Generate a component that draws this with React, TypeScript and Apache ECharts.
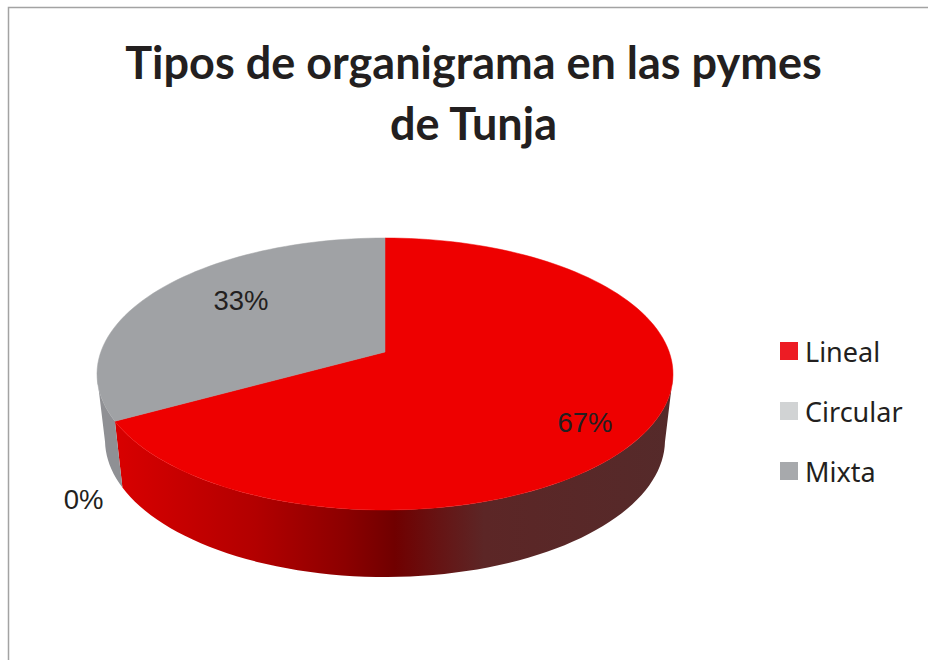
import React, { useEffect, useRef } from "react";
import * as echarts from "echarts";

const categories = ["Lineal", "Circular", "Mixta"];
const percentages = [67, 0, 33];
const titleLines = ["Tipos de organigrama en las pymes", "de Tunja"];

const legendColors = ["#ed1c24", "#d1d3d4", "#a7a9ac"];
const topColors = ["#ee0000", "#d1d3d4", "#a0a2a5"];
const labelAnchors = [
  [585, 422],
  [83.5, 499],
  [241, 300],
];
const INK = "#231f20";

// Perspective projection of the pie's unit disc onto the page.
const CX = 385;
const K = -0.1618;
const A = 75.5;
const B = 352;
const S = 284.2;
const MID_Y = 374;
const DEPTH_Y = 66;
const BOTTOM_SCALE_X = 280 / 288;
const BOTTOM_SCALE_Y = 137 / 136;
// Clockwise angle from the top at which the side wall becomes visible.
const WALL_FROM = 100;

function topPoint(u: number, v: number) {
  const w = 1 + K * v;
  return [CX + (S * u) / w, (A * v + B) / w];
}
function rimPoints(a0: number, a1: number, bottom: boolean) {
  const n = Math.max(2, Math.ceil((a1 - a0) / 2));
  const pts: number[][] = [];
  for (let i = 0; i <= n; i++) {
    const a = ((a0 + ((a1 - a0) * i) / n) * Math.PI) / 180;
    const [x, y] = topPoint(Math.sin(a), -Math.cos(a));
    pts.push(
      bottom
        ? [CX + (x - CX) * BOTTOM_SCALE_X, MID_Y + DEPTH_Y + (y - MID_Y) * BOTTOM_SCALE_Y]
        : [x, y]
    );
  }
  return pts;
}

const wallFills: any[] = [
  {
    type: "linear",
    x: 117,
    y: 0,
    x2: 673,
    y2: 0,
    global: true,
    colorStops: [
      { offset: 0, color: "#d80000" },
      { offset: 0.25, color: "#b20000" },
      { offset: 0.41, color: "#8c0000" },
      { offset: 0.5, color: "#700000" },
      { offset: 0.58, color: "#661414" },
      { offset: 0.66, color: "#5c2626" },
      { offset: 1, color: "#552a2a" },
    ],
  },
  "#bfc1c4",
  "#8f9094",
];

export default function App() {
  const ref = useRef<HTMLDivElement>(null);
  useEffect(() => {
    const chart = echarts.init(ref.current!, undefined, { renderer: "svg" });
    const total = percentages.reduce((a, b) => a + b, 0);
    const series = categories.map((name, idx) => {
      const before = percentages.slice(0, idx).reduce((a, b) => a + b, 0);
      return {
        type: "custom",
        name,
        coordinateSystem: "none",
        silent: true,
        data: [percentages[idx]],
        itemStyle: { color: legendColors[idx] },
        renderItem: (_p: any, api: any) => {
          const value = api.value(0);
          const a0 = (before / total) * 360;
          const a1 = ((before + value) / total) * 360;
          const children: any[] = [];
          if (value > 0) {
            const w0 = Math.max(a0, WALL_FROM);
            const w1 = Math.min(a1, 360 - WALL_FROM);
            if (w1 > w0) {
              const wallTop = rimPoints(w0, w1, false);
              const wallBot = rimPoints(w0, w1, true).reverse();
              children.push({
                type: "polygon",
                z2: 1,
                shape: { points: [...wallTop, ...wallBot] },
                style: { fill: wallFills[idx] },
              });
            }
            children.push({
              type: "polygon",
              z2: 2,
              shape: { points: [topPoint(0, 0), ...rimPoints(a0, a1, false)] },
              style: { fill: topColors[idx], stroke: topColors[idx], lineWidth: 0.5 },
            });
          }
          children.push({
            type: "text",
            z2: 3,
            style: {
              text: `${value}%`,
              x: labelAnchors[idx][0],
              y: labelAnchors[idx][1],
              align: "center",
              verticalAlign: "middle",
              fill: INK,
              font: '27.5px "Liberation Sans"',
            },
          });
          return { type: "group", children };
        },
      };
    });
    chart.setOption({
      animation: false,
      backgroundColor: "#ffffff",
      title: {
        text: titleLines.join("\n"),
        left: 468.5,
        top: 26,
        textAlign: "center",
        textStyle: {
          fontFamily: "Lato",
          fontWeight: "bold",
          fontSize: 45,
          lineHeight: 61,
          color: INK,
        },
      },
      legend: {
        orient: "vertical",
        left: 780,
        top: 336,
        padding: 0,
        itemWidth: 18,
        itemHeight: 18,
        itemGap: 30,
        icon: "rect",
        data: categories.map((name, i) => ({ name, itemStyle: { color: legendColors[i] } })),
        selectedMode: false,
        textStyle: {
          fontFamily: "Noto Sans",
          fontSize: 27,
          color: INK,
          padding: [0, 0, 0, 2],
          lineHeight: 30,
        },
      },
      graphic: [
        {
          type: "polyline",
          silent: true,
          shape: {
            points: [
              [8.5, 660],
              [8.5, 7.5],
              [928, 7.5],
            ],
          },
          style: { stroke: "#a3a3a3", lineWidth: 1.5, fill: "none" },
        },
      ],
      series,
    });
    return () => chart.dispose();
  }, []);
  return (
    <div
      ref={ref}
      style={{ position: "absolute", left: 0, top: 0, width: 928, height: 660 }}
    />
  );
}
